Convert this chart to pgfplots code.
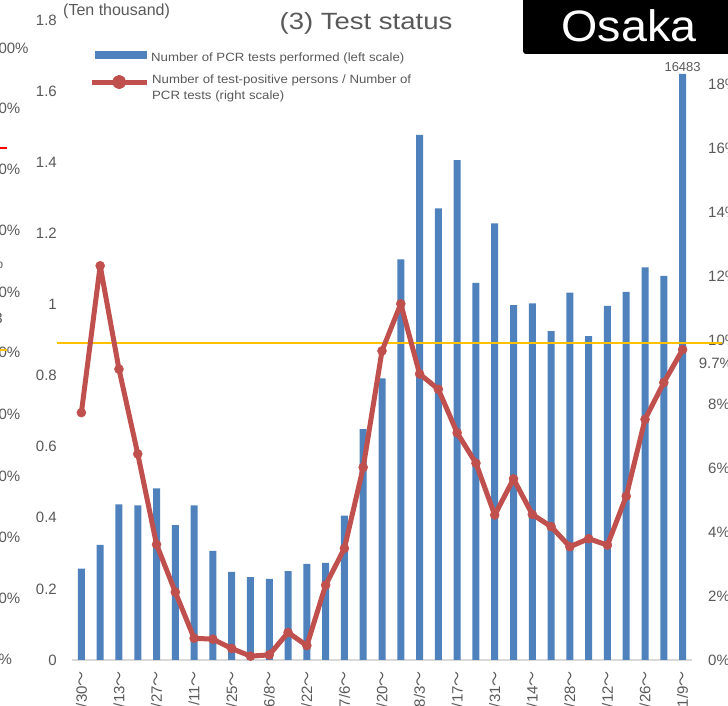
\documentclass[border=0pt]{standalone}
\usepackage{fontspec}
\setmainfont{Liberation Sans}
\newfontfamily\cjk{Noto Sans CJK JP}
\newfontfamily\titlefont[FakeStretch=1.17]{Liberation Sans}
\newfontfamily\legfont[FakeStretch=1.1]{Liberation Sans}
\newfontfamily\osakafont[FakeStretch=1.06]{Liberation Sans}
\usepackage{pgfplots}
\usepackage{pgfplotstable}
\pgfplotsset{compat=1.18}
\definecolor{barblue}{HTML}{4F81BD}
\definecolor{redline}{HTML}{C0504D}
\definecolor{yellowline}{HTML}{FFC000}
\definecolor{textgray}{HTML}{595959}
\definecolor{axisgray}{HTML}{D9D9D9}
\newcommand{\wv}{{\cjk ～}}

\pgfplotstableread{
x tests rate
1 0.257 7.73
2 0.324 12.32
3 0.438 9.09
4 0.435 6.44
5 0.483 3.61
6 0.379 2.12
7 0.435 0.68
8 0.307 0.65
9 0.248 0.36
10 0.233 0.12
11 0.228 0.16
12 0.250 0.86
13 0.270 0.45
14 0.273 2.34
15 0.406 3.49
16 0.649 6.02
17 0.792 9.66
18 1.127 11.13
19 1.477 8.94
20 1.270 8.46
21 1.406 7.10
22 1.061 6.15
23 1.228 4.53
24 0.998 5.66
25 1.003 4.55
26 0.925 4.17
27 1.033 3.54
28 0.911 3.79
29 0.996 3.59
30 1.035 5.12
31 1.104 7.52
32 1.080 8.67
33 1.6483 9.70
}\datatable

\pgfplotsset{
  base/.style={
    at={(72pt,46pt)}, anchor=south west, scale only axis,
    width=620pt, height=640pt,
    xmin=0.5, xmax=33.5,
    major tick length=0pt,
    clip=false,
    /pgf/number format/assume math mode=true,
    tick label style={font=\fontsize{15}{18}\selectfont, text=textgray, inner sep=0pt},
  }
}

\begin{document}
\begin{tikzpicture}[x=1pt,y=1pt]
\useasboundingbox (0,0) rectangle (728,706);

% fragments of the neighbouring chart at the left edge
\begin{scope}[every node/.style={font=\fontsize{15}{18}\selectfont, text=textgray, inner sep=0pt}]
\node[anchor=west] at (-10,658) {100\%};
\node[anchor=west] at (-10,598) {90\%};
\node[anchor=west] at (-10,537) {80\%};
\node[anchor=west] at (-10,476) {70\%};
\node[anchor=west] at (-10,414) {60\%};
\node[anchor=west] at (-10,354) {50\%};
\node[anchor=west] at (-10,292) {40\%};
\node[anchor=west] at (-10,230) {30\%};
\node[anchor=west] at (-10,169) {20\%};
\node[anchor=west] at (-10,108) {10\%};
\node[anchor=west] at (-10,47) {0\%};
\node[anchor=east] at (3.5,443) {\%};
\node[anchor=east] at (3,388) {3};
\end{scope}
\draw[red, line width=1.5pt] (0,558) -- (7,558);
\draw[yellowline, line width=1.5pt] (0,356) -- (7,356);

% left axis: bars
\begin{axis}[base,
  ymin=0, ymax=1.8,
  axis x line*=bottom, axis y line*=left,
  y axis line style={draw=none},
  x axis line style={draw=axisgray, line width=1.3pt},
  ytick={0,0.2,0.4,0.6,0.8,1,1.2,1.4,1.6,1.8},
  yticklabel shift=15pt,
  xtick={1,3,...,33},
  xticklabels={3/30\wv,4/13\wv,4/27\wv,5/11\wv,5/25\wv,6/8\wv,6/22\wv,7/6\wv,7/20\wv,8/3\wv,8/17\wv,8/31\wv,9/14\wv,9/28\wv,10/12\wv,10/26\wv,11/9\wv},
  xticklabel style={rotate=90, anchor=east},
  xticklabel shift=11pt,
  legend style={at={(0.0371,0.9422)}, anchor=west, draw=none, fill=none,
    inner sep=0pt, column sep=4pt,
    font=\legfont\fontsize{12}{16}\selectfont, text=textgray,
    nodes={inner sep=0pt}},
  legend cell align=left,
]
\addplot[ybar, bar width=7pt, fill=barblue, draw=none,
  legend image code/.code={\fill[barblue] (0pt,-1.5pt) rectangle (52pt,6.5pt);}]
  table[x=x,y=tests]{\datatable};
\addlegendentry{Number of PCR tests performed (left scale)}
\node[above, inner sep=2pt, font=\fontsize{13}{15}\selectfont, text=textgray] at (axis cs:33,1.6483) {16483};
\end{axis}

% right axis: positive rate
\begin{axis}[base,
  ymin=0, ymax=20,
  axis x line=none, axis y line*=right,
  y axis line style={draw=none},
  xtick=\empty,
  ytick={0,2,4,6,8,10,12,14,16,18},
  yticklabel={\pgfmathprintnumber{\tick}\%},
  yticklabel shift=16pt,
  legend style={at={(0.0274,0.9031)}, anchor=west, draw=none, fill=none,
    inner sep=0pt, column sep=3pt,
    font=\legfont\fontsize{12}{16}\selectfont, text=textgray,
    nodes={inner sep=0pt}},
  legend cell align=left,
]
\addplot[yellowline, line width=2pt, forget plot] coordinates {(-0.3,9.92) (35.1,9.92)};
\addplot[redline, line width=5pt, line join=round, mark=*, mark size=4.5pt,
  mark options={solid, fill=redline, draw=redline, line width=0.5pt},
  legend image code/.code={\draw[redline, line width=5pt] (0pt,-2pt) -- (55pt,-2pt);
     \fill[redline] (27.5pt,-2pt) circle (4.5pt);}]
  table[x=x,y=rate]{\datatable};
\addlegendentry{\parbox[t]{320pt}{Number of test-positive persons / Number of\\PCR tests (right scale)}}
\node[anchor=west, inner sep=0pt, xshift=16pt, yshift=-14pt, font=\fontsize{15}{18}\selectfont, text=textgray] at (axis cs:33,9.7) {9.7\%};
\end{axis}

% titles
\node[anchor=west, inner sep=0pt, font=\fontsize{16}{19}\selectfont, text=textgray] at (63,695) {(Ten thousand)};
\node[inner sep=0pt, font=\titlefont\fontsize{23.5}{28}\selectfont, text=textgray] at (366,683) {(3) Test status};
\fill[black, rounded corners=3pt] (523,652) rectangle (740,712);
\node[inner sep=0pt, font=\osakafont\fontsize{44}{50}\selectfont, text=white] at (629,680) {Osaka};
\end{tikzpicture}
\end{document}
